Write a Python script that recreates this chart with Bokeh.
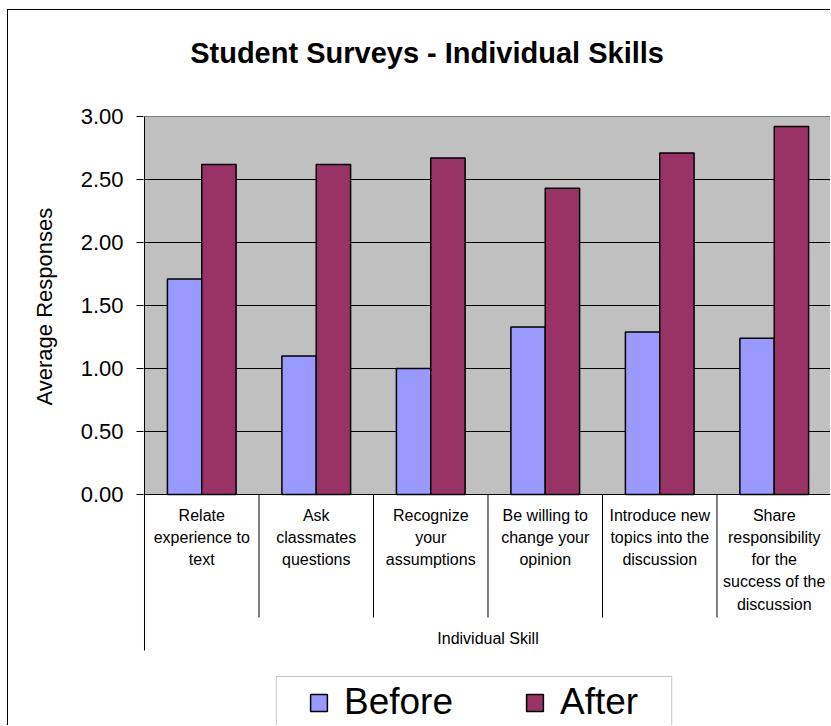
from bokeh.plotting import figure
from bokeh.models import (Range1d, FixedTicker, PrintfTickFormatter, Legend, LegendItem,
                          BoxAnnotation, ColumnDataSource, Title)
from bokeh.core.properties import value
from bokeh.embed import file_html
from bokeh.resources import INLINE

# ---------------- data ----------------
title_text = "Student Surveys - Individual Skills"
y_title = "Average Responses"
x_title = "Individual Skill"
category_labels = [
    "Relate\nexperience to\ntext",
    "Ask\nclassmates\nquestions",
    "Recognize\nyour\nassumptions",
    "Be willing to\nchange your\nopinion",
    "Introduce new\ntopics into the\ndiscussion",
    "Share\nresponsibility\nfor the\nsuccess of the\ndiscussion",
]
series_names = ["Before", "After"]
before = [1.71, 1.10, 1.00, 1.33, 1.29, 1.24]
after = [2.62, 2.62, 2.67, 2.43, 2.71, 2.92]
y_ticks = [0.0, 0.5, 1.0, 1.5, 2.0, 2.5, 3.0]

# ---------------- styling / layout ----------------
FONT = "Liberation Sans"
C_BEFORE = "#9999FF"
C_AFTER = "#993366"
C_PLOT = "#C0C0C0"
W, H = 823, 716
LEFT = 134
FRAME_TOP_PAD = 106            # px from figure top down to the 3.00 line
n = len(category_labels)
PX_X = (W - LEFT - 1) / n      # pixels per category
PX_Y = 126.0                   # pixels per unit
ymax = y_ticks[-1]
ymin = ymax - (H - FRAME_TOP_PAD) / PX_Y
ytop = ymax + FRAME_TOP_PAD / PX_Y
BW = 0.3

x_range = Range1d(-1.0 / PX_X, n)
y_range = Range1d(ymin, ytop)

p = figure(width=W, height=H, x_range=x_range, y_range=y_range,
           toolbar_location=None, output_backend="svg",
           x_axis_location=None,
           min_border_left=LEFT, min_border_top=0,
           min_border_right=0, min_border_bottom=0,
           outline_line_color=None, background_fill_color="white",
           border_fill_color="white")
p.margin = (9, 0, 0, 7)
p.styles = {"border-left": "1px solid black", "border-top": "1px solid black"}

centers = [i + 0.5 for i in range(n)]
src = ColumnDataSource(dict(
    xc=centers,
    xb=[c - BW / 2 for c in centers],
    xa=[c + BW / 2 for c in centers],
    before=before, after=after, label=category_labels))

# plot area background
p.quad(left=0, right=n, bottom=0, top=ymax, fill_color=C_PLOT,
       line_color="#808080", line_width=1, level="image")

# grid (the top edge of the plot area is the grey border)
p.ygrid.ticker = FixedTicker(ticks=y_ticks[:-1])
p.ygrid.grid_line_color = "black"
p.ygrid.grid_line_width = 1
for g in p.xgrid:
    g.visible = False

rb = p.vbar(x="xb", top="before", width=BW, source=src, fill_color=C_BEFORE,
            line_color="black", line_width=1.5)
ra = p.vbar(x="xa", top="after", width=BW, source=src, fill_color=C_AFTER,
            line_color="black", line_width=1.5)

# category axis structure
p.segment(x0=[0], y0=[ymax], x1=[0], y1=[-156 / PX_Y], line_color="black", line_width=1)
p.segment(x0=list(range(1, n)), y0=[0] * (n - 1), x1=list(range(1, n)),
          y1=[-123 / PX_Y] * (n - 1), line_color="black", line_width=1)

p.text(x="xc", y=0, text="label", source=src, text_align="center",
       text_baseline="top", y_offset=12, text_font=value(FONT),
       text_font_size="16px", text_line_height=1.31, text_color="black")
p.text(x=[n / 2], y=[0], text=[x_title], text_align="center",
       text_baseline="middle", y_offset=144, text_font=value(FONT),
       text_font_size="16px", text_color="black")

# chart title
p.text(x=[(426 - 143) / PX_X], y=[ymax], text=[title_text], text_align="center",
       text_baseline="middle", y_offset=-64, text_font=value(FONT),
       text_font_size="29px", text_font_style="bold", text_color="black")

# y axis
ax = p.yaxis[0]
ax.ticker = FixedTicker(ticks=y_ticks)
ax.formatter = PrintfTickFormatter(format="%.2f")
ax.axis_line_color = None
ax.major_tick_in = 0
ax.major_tick_out = 7
ax.major_tick_line_color = "black"
ax.minor_tick_line_color = None
ax.major_label_standoff = 13
ax.major_label_text_font = FONT
ax.major_label_text_font_size = "22px"
ax.major_label_text_color = "black"

# y axis title, centred on the value range
p.add_layout(Title(text=y_title, align="left", offset=321, standoff=42,
                   text_font=FONT, text_font_size="22px", text_font_style="normal",
                   text_color="black"), "left")

# legend frame + legend
frame_box = BoxAnnotation(left=(275 - 143) / PX_X, right=(671 - 143) / PX_X,
                          top=-(676 - 494) / PX_Y, bottom=ymin - 1,
                          fill_color="white", fill_alpha=1,
                          line_color="#404040", line_width=1)
p.add_layout(frame_box)

legend = Legend(items=[LegendItem(label=value(series_names[0]), renderers=[rb]),
                       LegendItem(label=value(series_names[1]), renderers=[ra])],
                orientation="horizontal", location=(165, 3),
                glyph_width=21, glyph_height=21, label_standoff=15, spacing=71,
                padding=10, margin=0, border_line_color=None,
                background_fill_alpha=0, label_text_font=FONT,
                label_text_font_size="37px", label_text_color="black")
p.add_layout(legend, "center")

open("out.html", "w").write(file_html(p, INLINE))
